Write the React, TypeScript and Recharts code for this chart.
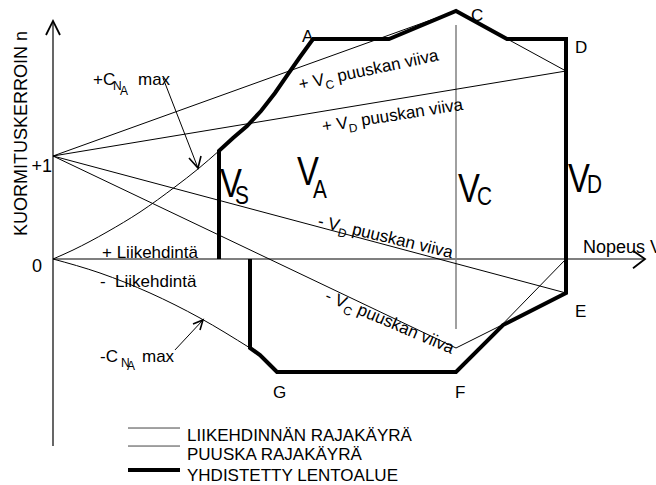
import React from "react";
import { LineChart, Line, XAxis, YAxis, ReferenceDot } from "recharts";

type Pt = { v: number; n: number };

const FONT = "'Liberation Sans', Arial, Helvetica, sans-serif";

// yhdistetty lentoalue: Vs -> A -> C -> D -> E -> F -> G -> takaisin akselille
const envelope: Pt[] = [
  { v: 166, n: 0 },
  { v: 166, n: 1.05 },
  { v: 180, n: 1.175 },
  { v: 194, n: 1.291 },
  { v: 208, n: 1.437 },
  { v: 222, n: 1.612 },
  { v: 235, n: 1.796 },
  { v: 247, n: 1.961 },
  { v: 260, n: 2.136 },
  { v: 336, n: 2.136 },
  { v: 403, n: 2.408 },
  { v: 454, n: 2.136 },
  { v: 513, n: 2.136 },
  { v: 513, n: -0.33 },
  { v: 450, n: -0.641 },
  { v: 403, n: -1.097 },
  { v: 224, n: -1.097 },
  { v: 217, n: -1.029 },
  { v: 207, n: -0.932 },
  { v: 197, n: -0.864 },
  { v: 197, n: 0 },
];

// liikehdinnän rajakäyrät (+CNA max / -CNA max)
const posStall: Pt[] = [
  { v: 0, n: 0 },
  { v: 20, n: 0.087 },
  { v: 54, n: 0.262 },
  { v: 87, n: 0.456 },
  { v: 122, n: 0.7 },
  { v: 145, n: 0.874 },
  { v: 166, n: 1.05 },
];
const negStall: Pt[] = [
  { v: 0, n: 0 },
  { v: 47, n: -0.136 },
  { v: 97, n: -0.33 },
  { v: 147, n: -0.573 },
  { v: 197, n: -0.864 },
];

// puuskaviivat
const gustPosVc: Pt[] = [{ v: 0, n: 1 }, { v: 403, n: 2.408 }];
const gustPosVd: Pt[] = [{ v: 0, n: 1 }, { v: 513, n: 1.825 }];
const gustPosCD: Pt[] = [{ v: 403, n: 2.408 }, { v: 513, n: 1.825 }];
const gustNegVd: Pt[] = [{ v: 0, n: 1 }, { v: 513, n: -0.33 }];
const gustNegVc: Pt[] = [{ v: 0, n: 1 }, { v: 403, n: -0.864 }];
const gustNegCD: Pt[] = [{ v: 403, n: -0.864 }, { v: 513, n: -0.33 }];
const negManeuverFD: Pt[] = [{ v: 403, n: -1.097 }, { v: 513, n: 0 }];
const vcLine: Pt[] = [{ v: 403, n: 2.272 }, { v: 403, n: -0.68 }];

// akselit ja nuolet
const yAxisLine: Pt[] = [{ v: 0, n: 2.311 }, { v: 0, n: -1.816 }];
const yAxisHead: Pt[] = [{ v: -7, n: 2.175 }, { v: 0, n: 2.311 }, { v: 7, n: 2.175 }];
const xAxisLine: Pt[] = [{ v: 0, n: 0 }, { v: 592, n: 0 }];
const xAxisHead: Pt[] = [{ v: 580, n: 0.081 }, { v: 592, n: 0 }, { v: 580, n: -0.09 }];
const plusArrow: Pt[] = [{ v: 110, n: 1.757 }, { v: 145, n: 0.883 }];
const plusArrowHead: Pt[] = [{ v: 136, n: 0.981 }, { v: 145, n: 0.883 }, { v: 148, n: 1.0 }];
const minusArrow: Pt[] = [{ v: 122, n: -0.883 }, { v: 150, n: -0.592 }];
const minusArrowHead: Pt[] = [{ v: 140, n: -0.631 }, { v: 150, n: -0.592 }, { v: 147, n: -0.689 }];

// selite
const legendManeuver: Pt[] = [{ v: 75, n: -1.641 }, { v: 127, n: -1.641 }];
const legendGust: Pt[] = [{ v: 75, n: -1.816 }, { v: 127, n: -1.816 }];
const legendEnvelope: Pt[] = [{ v: 75, n: -2.049 }, { v: 127, n: -2.049 }];

const cornerNames = ["A", "C", "D", "E", "F", "G"];
const speedSubs = ["S", "A", "C", "D"];
const legendTexts = ["LIIKEHDINNÄN RAJAKÄYRÄ", "PUUSKA RAJAKÄYRÄ", "YHDISTETTY LENTOALUE"];
const gustTexts = [
  { sign: "+", sub: "C" },
  { sign: "+", sub: "D" },
  { sign: "-", sub: "D" },
  { sign: "-", sub: "C" },
];

// sijoittelu (data-yksiköissä)
const cornerAt = [
  [249, 2.107],
  [418, 2.311],
  [522, 2.0],
  [522, -0.563],
  [402, -1.35],
  [220, -1.35],
];
const speedAt = [
  { v: 167, n: 0.602, dx: 15, dy: 7 },
  { v: 244, n: 0.72, dx: 16, dy: 13 },
  { v: 405, n: 0.553, dx: 19, dy: 3 },
  { v: 515, n: 0.65, dx: 19, dy: 1 },
];
const gustAt = [
  { v: 247, n: 1.641, angle: -12 },
  { v: 270, n: 1.233, angle: -9 },
  { v: 264, n: 0.32, angle: 13.5 },
  { v: 271, n: -0.398, angle: 23 },
];
const legendAt = [
  [134, -1.767],
  [134, -1.951],
  [134, -2.155],
];

const thin = (data: Pt[], key: string, color = "#000", w = 1, type: any = "linear") => (
  <Line
    key={key}
    data={data}
    dataKey="n"
    type={type}
    stroke={color}
    strokeWidth={w}
    dot={false}
    activeDot={false}
    isAnimationActive={false}
  />
);

const txt = (
  key: string,
  v: number,
  n: number,
  render: (x: number, y: number) => React.ReactNode
) => (
  <ReferenceDot
    key={key}
    x={v}
    y={n}
    r={0}
    ifOverflow="visible"
    shape={(p: any) => <g>{render(p.cx, p.cy)}</g>}
  />
);

export default function App() {
  return (
    <div style={{ width: 656, height: 485, background: "#fff" }}>
      <style>{"body{margin:0}"}</style>
      <LineChart width={656} height={485} margin={{ top: 0, right: 0, bottom: 0, left: 0 }}>
        <XAxis dataKey="v" type="number" domain={[-53, 603]} allowDataOverflow hide />
        <YAxis type="number" domain={[-2.1942, 2.5146]} allowDataOverflow hide />

        {thin(xAxisLine, "xa", "#000", 1.2)}
        {thin(yAxisLine, "ya", "#000", 1.2)}
        {thin(yAxisHead, "yh", "#000", 1.8)}
        {thin(xAxisHead, "xh", "#000", 1.8)}
        {thin(vcLine, "vc", "#808080", 1.5)}
        {thin(posStall, "ps", "#000", 1, "monotone")}
        {thin(negStall, "ns", "#000", 1, "monotone")}
        {thin(gustPosVc, "g1")}
        {thin(gustPosVd, "g2")}
        {thin(gustPosCD, "g3")}
        {thin(gustNegVd, "g4")}
        {thin(gustNegVc, "g5")}
        {thin(gustNegCD, "g6")}
        {thin(negManeuverFD, "g7")}
        {thin(plusArrow, "pa")}
        {thin(plusArrowHead, "pah", "#000", 1.6)}
        {thin(minusArrow, "ma")}
        {thin(minusArrowHead, "mah", "#000", 1.6)}
        {thin(legendManeuver, "l1", "#444", 1)}
        {thin(legendGust, "l2", "#444", 1)}
        {thin(legendEnvelope, "l3", "#000", 4)}
        {thin(envelope, "env", "#000", 4)}

        {txt("ytitle", -26, 1.218, (x, y) => (
          <text x={x} y={y} transform={`rotate(-90 ${x} ${y})`} textAnchor="middle" fontSize={18} fontFamily={FONT}>
            KUORMITUSKERROIN n
          </text>
        ))}
        {txt("one", -1, 0.845, (x, y) => (
          <text x={x} y={y} textAnchor="end" fontSize={18} fontFamily={FONT}>+1</text>
        ))}
        {txt("zero", -21, -0.126, (x, y) => (
          <text x={x} y={y} fontSize={18} fontFamily={FONT}>0</text>
        ))}
        {txt("nopeus", 530, 0.058, (x, y) => (
          <text x={x} y={y} fontSize={18} fontFamily={FONT}>Nopeus V</text>
        ))}
        {txt("liik1", 49, 0.01, (x, y) => (
          <text x={x} y={y} fontSize={17} fontFamily={FONT} style={{ whiteSpace: "pre" }}>+ Liikehdintä</text>
        ))}
        {txt("liik2", 47, -0.272, (x, y) => (
          <text x={x} y={y} fontSize={17} fontFamily={FONT} style={{ whiteSpace: "pre" }}>-  Liikehdintä</text>
        ))}
        {txt("cnap", 40, 1.689, (x, y) => (
          <g fontFamily={FONT}>
            <text x={x} y={y} fontSize={17}>+C</text>
            <text x={x + 20} y={y + 5} fontSize={12}>N</text>
            <text x={x + 27} y={y + 10} fontSize={12}>A</text>
            <text x={x + 45} y={y} fontSize={17}>max</text>
          </g>
        ))}
        {txt("cnam", 47, -1.0, (x, y) => (
          <g fontFamily={FONT}>
            <text x={x} y={y} fontSize={17}>-C</text>
            <text x={x + 21} y={y + 5} fontSize={12}>N</text>
            <text x={x + 27} y={y + 8} fontSize={12}>A</text>
            <text x={x + 42} y={y} fontSize={17}>max</text>
          </g>
        ))}

        {cornerNames.map((c, i) =>
          txt("c" + c, cornerAt[i][0], cornerAt[i][1], (x, y) => (
            <text x={x} y={y} fontSize={17} fontFamily={FONT}>{c}</text>
          ))
        )}

        {speedSubs.map((s, i) =>
          txt("s" + s, speedAt[i].v, speedAt[i].n, (x, y) => (
            <g transform={`translate(${x},${y}) scale(0.8,1)`} fontFamily={FONT}>
              <text x={0} y={0} fontSize={41}>V</text>
              <text x={speedAt[i].dx / 0.8} y={speedAt[i].dy} fontSize={26}>{s}</text>
            </g>
          ))
        )}

        {gustTexts.map((g, i) =>
          txt("g" + i, gustAt[i].v, gustAt[i].n, (x, y) => (
            <text
              x={x}
              y={y}
              transform={`rotate(${gustAt[i].angle} ${x} ${y})`}
              fontSize={17}
              fontFamily={FONT}
              style={{ whiteSpace: "pre" }}
            >
              <tspan>{g.sign + " V"}</tspan>
              <tspan fontSize={12} dy={5}>{g.sub}</tspan>
              <tspan dy={-5}>{" puuskan viiva"}</tspan>
            </text>
          ))
        )}

        {legendTexts.map((t, i) =>
          txt("lt" + i, legendAt[i][0], legendAt[i][1], (x, y) => (
            <text x={x} y={y} fontSize={17} fontFamily={FONT}>{t}</text>
          ))
        )}
      </LineChart>
    </div>
  );
}
